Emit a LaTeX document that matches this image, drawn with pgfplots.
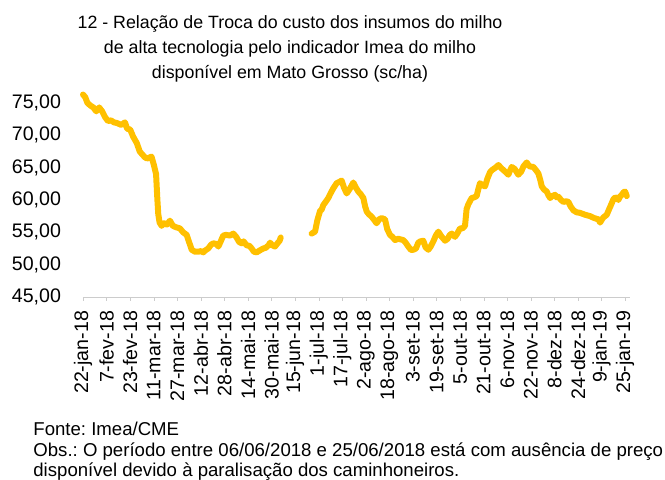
\documentclass[border=0pt]{standalone}
\usepackage{fontspec}
\setmainfont{Liberation Sans}
\usepackage{pgfplots}
\pgfplotsset{compat=1.18}
\definecolor{milho}{HTML}{FFC000}

\begin{document}
\frenchspacing
\begin{tikzpicture}
\path[use as bounding box] (0,0) rectangle (332.5pt,240pt);
\begin{axis}[
  scale only axis,
  width=273.5pt, height=103.5pt,
  at={(41.5pt,91.5pt)}, anchor=south west,
  xmin=0, xmax=371.3,
  ymin=45, ymax=77,
  axis x line=bottom, axis y line=left,
  x axis line style={black!20, -},
  y axis line style={draw=none},
  xtick align=outside,
  major tick length=2pt,
  xtick style={black!20},
  ytick style={draw=none},
  xtick={0,16,...,368},
  xticklabels={22-jan-18,7-fev-18,23-fev-18,11-mar-18,27-mar-18,12-abr-18,28-abr-18,14-mai-18,30-mai-18,15-jun-18,1-jul-18,17-jul-18,2-ago-18,18-ago-18,3-set-18,19-set-18,5-out-18,21-out-18,6-nov-18,22-nov-18,8-dez-18,24-dez-18,9-jan-19,25-jan-19},
  ytick={45,50,...,75},
  /pgf/number format/assume math mode=true,
  yticklabel style={/pgf/number format/fixed, /pgf/number format/fixed zerofill,
    /pgf/number format/precision=2, /pgf/number format/use comma,
    anchor=east, xshift=-6.5pt},
  tick label style={font=\fontsize{9.8}{11}\selectfont},
  xticklabel style={rotate=90, anchor=east, xshift=-1.5pt},
  clip=false,
]
% 22-jan-18 ate 04-jun-18
\addplot[milho, line width=3pt, line join=round, line cap=round] coordinates {
(0,76.3) (1.5,75.9) (3,75.0) (5,74.6) (7,74.3) (9,73.7) (11,74.3) (13,73.7)
(15,72.8) (17,72.2) (19,72.3) (21,72.0) (23,71.9) (26,71.6) (28.5,72.0) (30,71.0)
(32,70.9) (34,69.8) (36.5,68.8) (38.5,67.5) (40,67.1) (42,66.6) (43.5,66.4) (46.5,66.7)
(48,65.5) (49.6,64.0) (50.5,60.0) (51.1,57.8) (52,56.5) (53.4,56.0) (55,56.4) (57,56.2)
(59,56.8) (61,56.0) (63,55.8) (65.8,55.6) (68,55.0) (70.4,54.6) (72,53.5) (73.8,52.3)
(76,52.0) (78.3,52.0) (80,52.1) (81.7,51.9) (83,52.2) (85,52.5) (87,53.1) (88.5,53.3)
(90.5,53.2) (91.9,52.8) (93.5,53.6) (95.2,54.5) (97,54.6) (99.8,54.5) (102,54.8) (104,54.3)
(106,53.5) (107.7,53.3) (109,53.6) (111,53.0) (113,52.9) (114.5,52.5) (116,52.0) (117.9,51.9)
(120,52.2) (122.4,52.5) (124,52.6) (126,53.0) (127,53.4) (128.5,53.0) (130.3,52.8) (132,53.3)
(133.5,53.7) (134.2,54.2)
};
% 26-jun-18 ate 25-jan-19
\addplot[milho, line width=3pt, line join=round, line cap=round] coordinates {
(155.2,54.8) (157.5,55.1) (159,56.8) (160.9,58.3) (162,58.5) (163.1,59.2) (165,59.8) (166.5,60.3)
(168,61.0) (169.9,61.8) (172.2,62.6) (174,62.8) (175.6,63.0) (177,62.0) (179,61.0) (181.3,61.8)
(183.5,62.7) (185,62.0) (186.9,61.3) (188.5,60.9) (190.3,60.3) (191.5,59.0) (192.6,58.2) (194,57.8)
(196,57.4) (198,56.8) (199.3,56.4) (201,57.0) (202.7,57.2) (205,57.0) (206.5,55.5) (208.4,54.6)
(210,54.3) (211.8,53.8) (214,54.0) (217.4,53.8) (219,53.4) (220.8,52.8) (222.5,52.3) (224.2,52.3)
(226,52.5) (227.6,53.4) (229,53.6) (231,53.7) (232.5,52.7) (234.4,52.3) (236,52.8) (237.8,53.6)
(239.5,54.5) (241.2,55.1) (243.5,54.3) (245.8,53.7) (247.5,54.0) (249,54.6) (250.3,54.8) (252.5,54.3)
(254,54.8) (255.9,55.6) (257.5,55.6) (259.3,56.0) (260.4,58.6) (261.5,59.3) (263.8,60.3) (265.5,60.4)
(267.2,60.6) (268.5,61.8) (269.5,62.6) (271,62.3) (272.9,62.1) (274.5,63.3) (276.3,64.3) (277.5,64.6)
(280,65.0) (282,65.4) (284,64.9) (286,64.5) (288.7,63.9) (290,64.6) (291,65.1) (293,64.8)
(295.5,63.9) (297.5,64.4) (299,65.2) (301.2,65.8) (303,65.2) (305.7,65.1) (307.5,64.6) (309.1,64.1)
(310.5,63.0) (311.4,62.1) (313,61.6) (314.8,61.3) (316,60.7) (317.1,60.3) (318.5,60.6) (320.4,60.8)
(321.5,60.4) (322.7,60.5) (324.5,60.0) (326.1,59.7) (328,59.8) (329.5,59.7) (331,59.0) (332.9,58.4)
(335,58.1) (337.4,58.0) (341,57.7) (344.2,57.5) (347,57.2) (349.9,57.0) (351,56.5) (352,56.9)
(353.2,57.3) (355.5,57.7) (357,58.5) (358.9,59.5) (360,60.1) (361.2,60.4) (362.3,60.3) (363.4,60.0)
(364.5,60.5) (365.7,60.8) (367,61.2) (368,61.3) (369.1,60.6)
};
\end{axis}
\node[align=center, font=\fontsize{8.9}{12.5}\selectfont] at (145pt,215.5pt)
  {12 - Relação de Troca do custo dos insumos do milho\\
   de alta tecnologia pelo indicador Imea do milho\\
   disponível em Mato Grosso (sc/ha)};
\node[anchor=base west, inner sep=0pt, font=\fontsize{9.3}{10}\selectfont] at (16.5pt,22.2pt) {Fonte: Imea/CME};
\node[anchor=base west, inner sep=0pt, font=\fontsize{9.3}{10}\selectfont] at (16.5pt,11.8pt) {Obs.: O período entre 06/06/2018 e 25/06/2018 está com ausência de preço};
\node[anchor=base west, inner sep=0pt, font=\fontsize{9.3}{10}\selectfont] at (16.5pt,1.6pt) {disponível devido à paralisação dos caminhoneiros.};
\end{tikzpicture}
\end{document}
